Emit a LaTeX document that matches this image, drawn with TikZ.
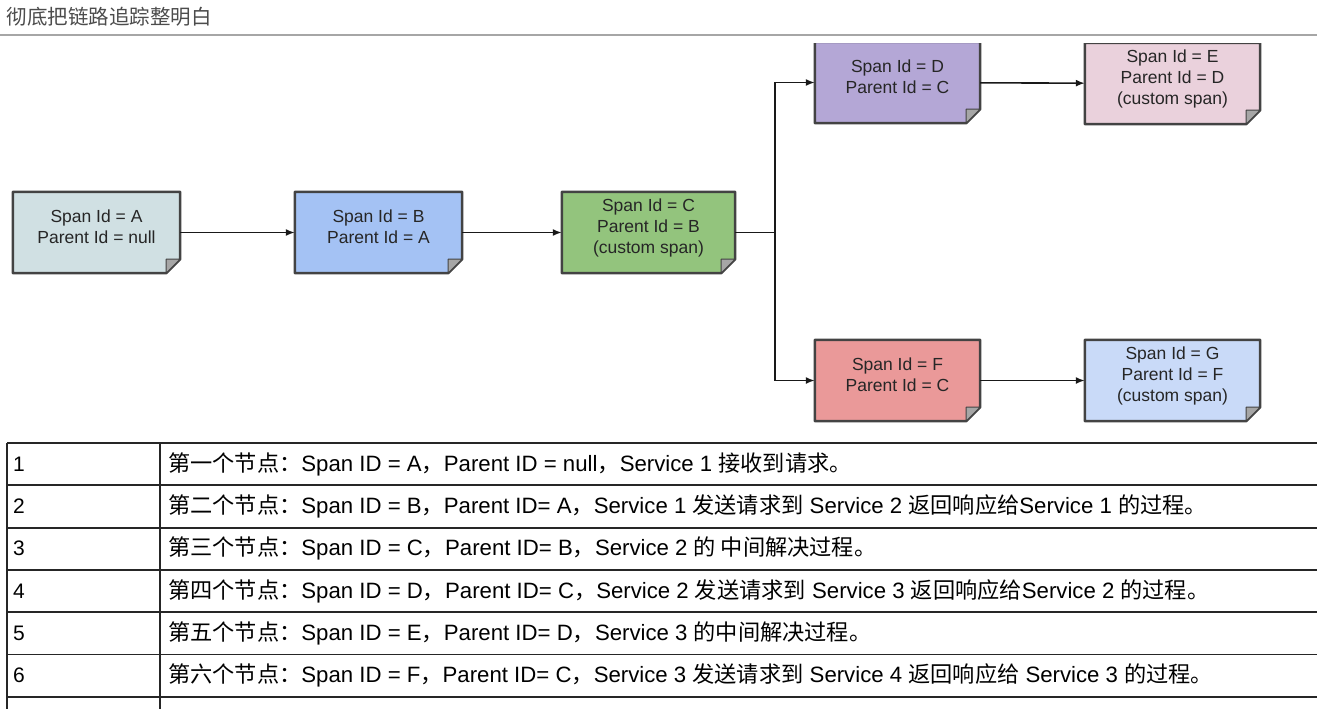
\documentclass[tikz,border=0pt]{standalone}
\usepackage{fontspec}
\setmainfont{Liberation Sans}
\newfontfamily\cjk{Noto Sans CJK SC}
\newcommand{\zh}[1]{{\cjk #1}}
\usetikzlibrary{arrows.meta,backgrounds}
\definecolor{spanA}{HTML}{D0E0E3}
\definecolor{spanB}{HTML}{A4C2F4}
\definecolor{spanC}{HTML}{93C47D}
\definecolor{spanD}{HTML}{B4A7D6}
\definecolor{spanE}{HTML}{EAD1DC}
\definecolor{spanF}{HTML}{EA9999}
\definecolor{spanG}{HTML}{C9DAF8}
\definecolor{edge}{HTML}{434343}

\tikzset{
  spanbox/.style={minimum width=167pt, minimum height=81pt, inner sep=0pt,
    align=center, text=black!85, font=\fontsize{17.5}{21}\selectfont, text depth=12pt},
  flow/.style={line width=1.6pt, draw=black!90, -{Latex[length=9pt,width=7pt]}},
  tline/.style={line width=1.8pt, draw=black!85},
}

\begin{document}
\begin{tikzpicture}[x=1pt,y=-1pt]
  \useasboundingbox (0,0) rectangle (1317,709);

  % title
  \node[anchor=west,text=black!70,font=\cjk\fontsize{20.5}{22}\selectfont]
    (title) at (3,17) {彻底把链路追踪整明白};
  \draw[black!35,line width=1.5pt] (0,35) -- (1317,35);

  % spans
  \node[spanbox] (a) at (96.5,232.5) {Span Id = A\\Parent Id = null};
  \node[spanbox] (b) at (378.5,232.5) {Span Id = B\\Parent Id = A};
  \node[spanbox,minimum width=173pt] (c) at (648.5,232.5) {Span Id = C\\Parent Id = B\\(custom span)};
  \node[spanbox,minimum width=165pt] (d) at (897.5,82.5) {Span Id = D\\Parent Id = C};
  \node[spanbox,minimum width=175pt] (e) at (1172.5,83.5) {Span Id = E\\Parent Id = D\\(custom span)};
  \node[spanbox,minimum width=165pt] (f) at (897.5,380.5) {Span Id = F\\Parent Id = C};
  \node[spanbox,minimum width=175pt] (g) at (1172.5,380.5) {Span Id = G\\Parent Id = F\\(custom span)};

  \begin{scope}[on background layer]
    \clip (0,44) rectangle (1317,440);
    \foreach \n/\c in {a/spanA,b/spanB,c/spanC,d/spanD,e/spanE,f/spanF,g/spanG}{
      \filldraw[fill=\c,draw=edge,line width=2.5pt,line join=round]
        (\n.north west) -- (\n.north east) -- ([yshift=14pt]\n.south east)
        -- ([xshift=-14pt]\n.south east) -- (\n.south west) -- cycle;
      \filldraw[fill=black!35,draw=edge,line width=1pt,line join=round]
        ([yshift=14pt]\n.south east) -- ([xshift=-14pt]\n.south east)
        -- ([shift={(-14pt,14pt)}]\n.south east) -- cycle;
    }
  \end{scope}

  % connectors
  \coordinate (fork) at (775,232.5);
  \draw[flow] (a) -- (b);
  \draw[flow] (b) -- (c);
  \draw[line width=1.6pt,black!90] (c.east) -- (fork);
  \draw[flow] (fork) |- (d.west);
  \draw[flow] (fork) |- (f.west);
  \draw[flow] (d) -- (e);
  \draw[flow] (f) -- (g);

  % table
  \foreach \r in {0,...,6}
    \draw[tline] (7,{443+42.3*\r}) -- (1317,{443+42.3*\r});
  \draw[tline] (7,443) -- (7,709);
  \draw[tline] (160,443) -- (160,709);

  \foreach \i/\txt in {
    1/{\zh{第一个节点：}Span ID = A\zh{，}Parent ID = null\zh{，}Service 1 \zh{接收到请求。}},
    2/{\zh{第二个节点：}Span ID = B\zh{，}Parent ID= A\zh{，}Service 1 \zh{发送请求到} Service 2 \zh{返回响应给}Service 1 \zh{的过程。}},
    3/{\zh{第三个节点：}Span ID = C\zh{，}Parent ID= B\zh{，}Service 2 \zh{的 中间解决过程。}},
    4/{\zh{第四个节点：}Span ID = D\zh{，}Parent ID= C\zh{，}Service 2 \zh{发送请求到} Service 3 \zh{返回响应给}Service 2 \zh{的过程。}},
    5/{\zh{第五个节点：}Span ID = E\zh{，}Parent ID= D\zh{，}Service 3 \zh{的中间解决过程。}},
    6/{\zh{第六个节点：}Span ID = F\zh{，}Parent ID= C\zh{，}Service 3 \zh{发送请求到} Service 4 \zh{返回响应给} Service 3 \zh{的过程。}}}{
    \node[anchor=west,inner sep=0pt,font=\fontsize{21}{22}\selectfont] (n\i) at (13,{464+42.3*(\i-1)}) {\i};
    \node[anchor=west,inner sep=0pt,font=\fontsize{22.2}{24}\selectfont] (t\i) at (168,{464+42.3*(\i-1)}) {\txt};
  }
\end{tikzpicture}
\end{document}
